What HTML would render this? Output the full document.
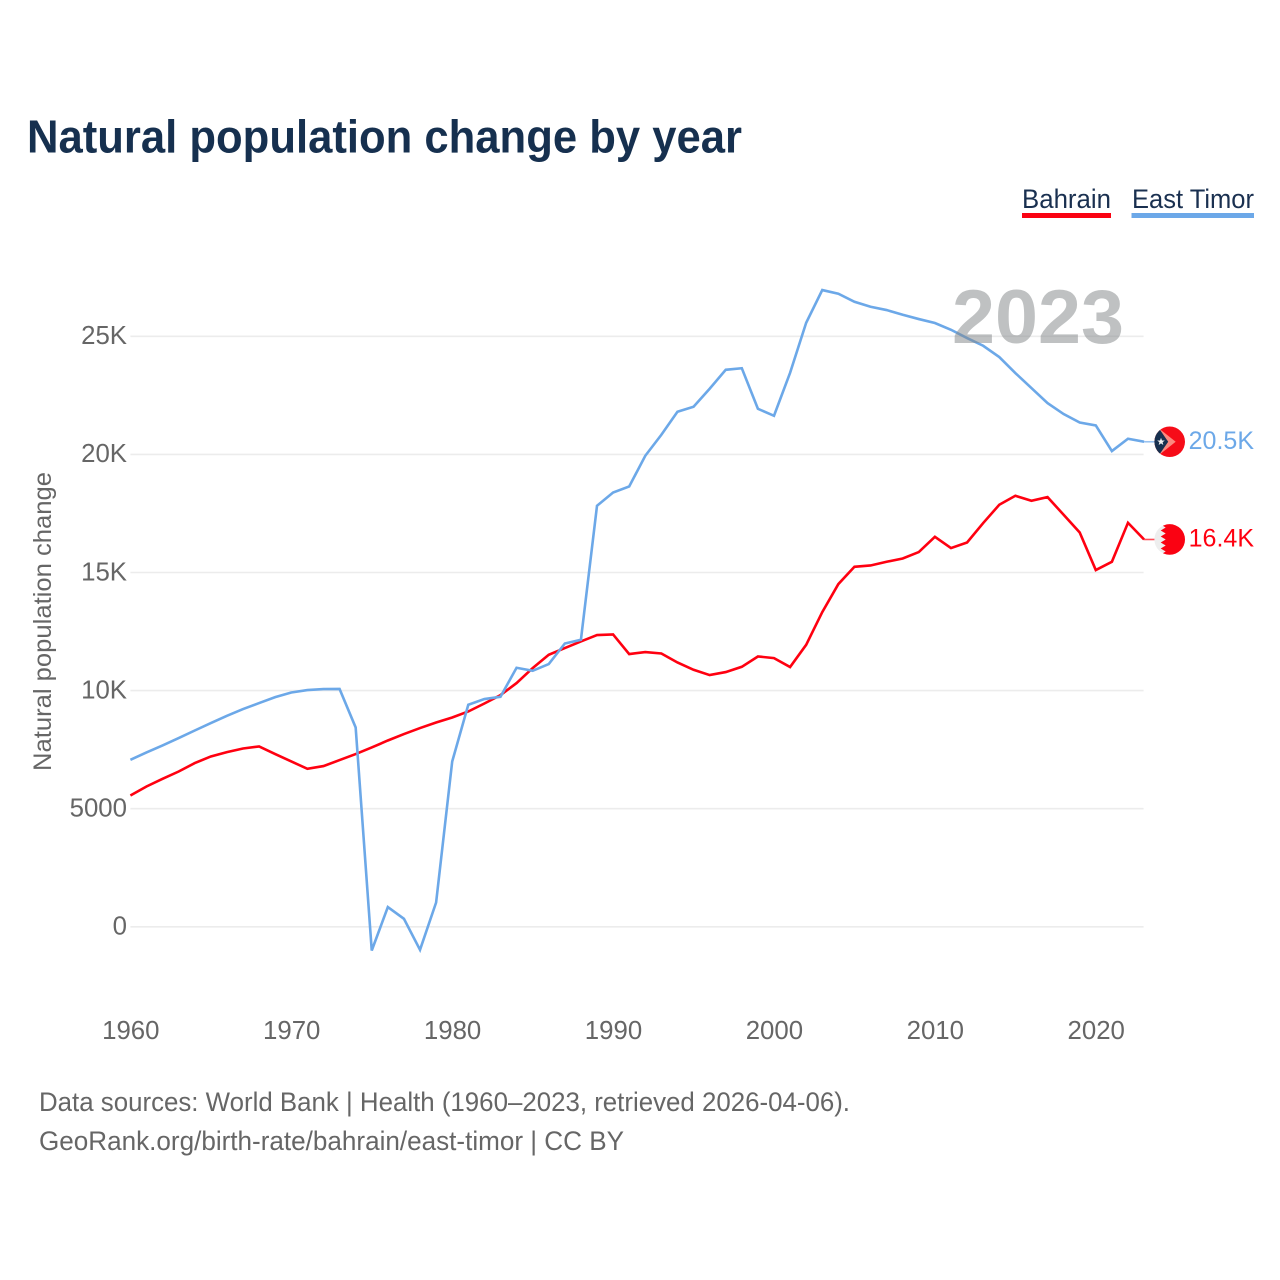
<!DOCTYPE html>
<html lang="en">
<head>
<meta charset="utf-8">
<title>Natural population change by year</title>
<style>
html,body{margin:0;padding:0;background:#fff;width:1280px;height:1280px;overflow:hidden}
svg{display:block}
text{font-family:"Liberation Sans",sans-serif}
</style>
</head>
<body>
<svg id="chart" xmlns="http://www.w3.org/2000/svg" width="1280" height="1280" viewBox="0 0 1280 1280">
  <text x="27" y="152.5" font-size="46" font-weight="700" fill="#16304f" textLength="715" lengthAdjust="spacingAndGlyphs">Natural population change by year</text>

  <g>
    <g>
      <text x="1022" y="208" font-size="27" fill="#1a3050" textLength="89" lengthAdjust="spacingAndGlyphs">Bahrain</text>
      <rect x="1022" y="213" width="89" height="5" fill="#fa0212"></rect>
    </g>
    <g>
      <text x="1132" y="208" font-size="27" fill="#1a3050" textLength="122" lengthAdjust="spacingAndGlyphs">East Timor</text>
      <rect x="1131.5" y="213" width="122.5" height="5" fill="#6ca8e8"></rect>
    </g>
  </g>

  <text transform="translate(51 771) rotate(-90)" font-size="25" fill="#666" textLength="299" lengthAdjust="spacingAndGlyphs">Natural population change</text>

  <g id="grid"></g>
  <g id="y-ticks"></g>
  <g id="x-ticks"></g>
  <g id="series"></g>
  <g id="ends"></g>

  <text id="year-label" x="1124" y="343" text-anchor="end" font-size="76" font-weight="700" fill="#85888a" fill-opacity="0.52" textLength="172" lengthAdjust="spacingAndGlyphs"></text>

  <text x="39" y="1111" font-size="27" fill="#666" textLength="811" lengthAdjust="spacingAndGlyphs">Data sources: World Bank | Health (1960–2023, retrieved 2026-04-06).</text>
  <text x="39" y="1150" font-size="27" fill="#666" textLength="585" lengthAdjust="spacingAndGlyphs">GeoRank.org/birth-rate/bahrain/east-timor | CC BY</text>
</svg>
<script>
const years = [1960,1961,1962,1963,1964,1965,1966,1967,1968,1969,
  1970,1971,1972,1973,1974,1975,1976,1977,1978,1979,
  1980,1981,1982,1983,1984,1985,1986,1987,1988,1989,
  1990,1991,1992,1993,1994,1995,1996,1997,1998,1999,
  2000,2001,2002,2003,2004,2005,2006,2007,2008,2009,
  2010,2011,2012,2013,2014,2015,2016,2017,2018,2019,
  2020,2021,2022,2023];
const bahrainValues = [5559,5940,6266,6575,6931,7211,7397,7549,7634,7312,
  6999,6690,6804,7058,7312,7592,7888,8159,8413,8650,
  8862,9116,9454,9810,10318,10953,11516,11800,12080,12351,
  12376,11546,11631,11572,11191,10881,10657,10784,11008,11445,
  11377,10996,11940,13324,14510,15242,15297,15454,15594,15865,
  16513,16034,16271,17093,17867,18249,18037,18193,17444,16695,
  15103,15454,17105,16398];
const eastTimorValues = [7071,7380,7676,7990,8311,8625,8934,9217,9471,9725,
  9920,10022,10064,10070,8438,-1003,834,339,-974,1029,
  6999,9399,9641,9738,10966,10839,11123,11995,12152,17825,
  18388,18642,19942,20831,21805,22017,22779,23583,23647,21932,
  21636,23456,25573,26958,26801,26463,26251,26111,25912,25730,
  25561,25277,24926,24600,24121,23444,22809,22173,21708,21352,
  21225,20141,20662,20535];
const yTickValues = [0,5000,10000,15000,20000,25000];
const yTickLabels = ['0','5000','10K','15K','20K','25K'];
const xTickValues = [1960,1970,1980,1990,2000,2010,2020];
const xTickLabels = ['1960','1970','1980','1990','2000','2010','2020'];

const SVG_NS = 'http://www.w3.org/2000/svg';
function xScale(year){ return 130.4 + (year - 1960) * 16.09; }
function yScale(value){ return 926.8 - value * 0.02362; }
function formatValue(v){ return Math.abs(v) >= 10000 ? (v / 1000).toFixed(1) + 'K' : String(Math.round(v)); }
function make(tag, attrs, parent){
  const el = document.createElementNS(SVG_NS, tag);
  for (const k in attrs) el.setAttribute(k, attrs[k]);
  parent.appendChild(el);
  return el;
}

const grid = document.getElementById('grid');
const yTicks = document.getElementById('y-ticks');
const xTicks = document.getElementById('x-ticks');
const seriesLayer = document.getElementById('series');
const ends = document.getElementById('ends');
const lastYear = years[years.length - 1];

yTickValues.forEach(function(v, i){
  const line = make('line', {x1: xScale(1960), x2: xScale(lastYear) - 0.5, y1: yScale(v), y2: yScale(v), stroke: '#ececec', 'stroke-width': 1.6}, grid);
  
  
  const label = make('text', {x: 127, y: yScale(v) + 7.8, 'text-anchor': 'end', 'font-size': 25.8, fill: '#666'}, yTicks);
  
  
  label.textContent = yTickLabels[i];
});

xTickValues.forEach(function(v, i){
  const label = make('text', {x: xScale(v) + 0.4, y: 1039, 'text-anchor': 'middle', 'font-size': 25.8, fill: '#666'}, xTicks);
  
  
  label.textContent = xTickLabels[i];
});

function drawLine(values, color, name){
  const d = values.map(function(v, i){
    return (i ? 'L' : 'M') + xScale(years[i]).toFixed(2) + ' ' + yScale(v).toFixed(2);
  }).join('');
  const path = make('path', {d: d, fill: 'none', stroke: color, 'stroke-width': 2.6, 'stroke-linejoin': 'miter'}, seriesLayer);
  
  
}
drawLine(bahrainValues, '#ff0010', 'line-bahrain');
drawLine(eastTimorValues, '#6ca8e8', 'line-east-timor');

function drawEnd(values, color, slug, flag){
  const lastValue = values[values.length - 1];
  const y = yScale(lastValue);
  const x = xScale(lastYear);
  const connector = make('line', {x1: x, x2: 1155, y1: y, y2: y, stroke: color, 'stroke-width': 1.6, 'stroke-opacity': 0.7}, ends);
  
  
  const g = make('g', {transform: 'translate(1169.7 ' + y.toFixed(2) + ')'}, ends);
  
  
  flag(g);
  const label = make('text', {x: 1254, y: y + 7, 'text-anchor': 'end', 'font-size': 25, fill: color}, ends);
  
  
  label.textContent = formatValue(lastValue);
}

const defs = make('defs', {}, document.getElementById('chart'));
make('circle', {r: 15.3, cx: 0, cy: 0}, make('clipPath', {id: 'flag-clip'}, defs));

drawEnd(bahrainValues, '#ff0010', 'bahrain', function(g){
  const c = make('g', {'clip-path': 'url(#flag-clip)'}, g);
  make('rect', {x: -16, y: -16, width: 32, height: 32, fill: '#eeeeee'}, c);
  make('polygon', {points: '-9,-16 -9,-15 -4,-12 -9,-9 -4,-6 -9,-3 -4,0 -9,3 -4,6 -9,9 -4,12 -9,15 -9,16 16,16 16,-16', fill: '#fa0212'}, c);
});
drawEnd(eastTimorValues, '#6ca8e8', 'east-timor', function(g){
  const c = make('g', {'clip-path': 'url(#flag-clip)'}, g);
  make('rect', {x: -16, y: -16, width: 32, height: 32, fill: '#f60c18'}, c);
  make('polygon', {points: '-16,-17.5 6,0 -16,17.5', fill: '#fb8a80'}, c);
  make('polygon', {points: '-16,-21 -1.5,0 -16,21', fill: '#17304f'}, c);
  make('polygon', {points: '-8.7,-4 -7.7,-1.3 -4.9,-1.2 -7.1,0.5 -6.4,3.2 -8.7,1.6 -11,3.2 -10.3,0.5 -12.5,-1.2 -9.7,-1.3', fill: '#f0f0f0'}, c);
});

document.getElementById('year-label').textContent = String(lastYear);
</script>
</body>
</html>
